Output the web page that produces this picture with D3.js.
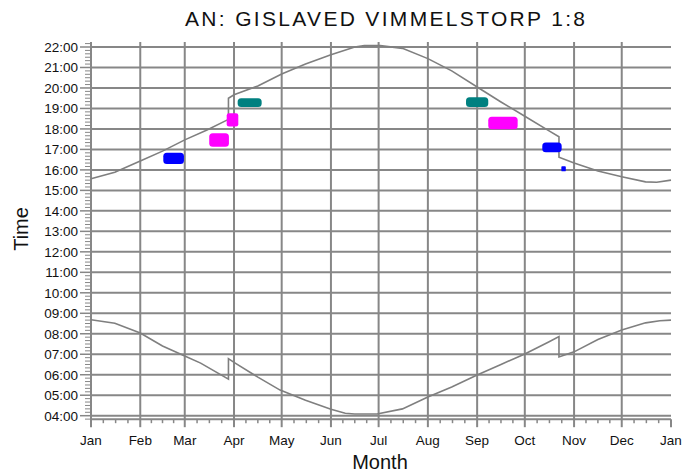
<!DOCTYPE html>
<html>
<head>
<meta charset="utf-8">
<script src="https://cdn.jsdelivr.net/npm/d3@7"></script>
<style>
  body { margin: 0; background: #fff; }
  svg { display: block; font-family: "Liberation Sans", Arial, sans-serif; }
</style>
</head>
<body>
<svg id="chart" width="699" height="473"></svg>
<script>
// Month axis: day-of-year where each month begins
const monthLabels = ["Jan","Feb","Mar","Apr","May","Jun","Jul","Aug","Sep","Oct","Nov","Dec","Jan"];
const monthStartDays = [0,31,59,90,120,151,181,212,243,273,304,334,365];
const hourTicks = d3.range(4, 23);

// Sunset (local clock time); the repeated day marks the daylight-saving shifts
const sunsetDays  = [0, 15, 31, 45, 59, 73, 86.5, 86.5, 90, 105, 120, 135, 151, 166, 172, 182, 196, 212, 227, 246, 258, 273, 288, 294.5, 294.5, 304, 319, 334, 349, 356, 365];
const sunsetTimes = ["15:34","15:53","16:26","16:55","17:28","17:57","18:28","19:30","19:40","20:06","20:41","21:10","21:37","22:00","22:04","22:04","21:56","21:26","20:50","19:54","19:19","18:37","17:55","17:37","16:37","16:20","15:57","15:40","15:25","15:24","15:30"];

// Sunrise (local clock time)
const sunriseDays  = [0, 15, 31, 45, 59, 69, 86.5, 86.5, 90, 105, 119, 135, 151, 160, 166, 180, 196, 212, 227, 243, 258, 273, 288, 294.5, 294.5, 304, 319, 334, 349, 358, 365];
const sunriseTimes = ["08:41","08:31","08:02","07:24","06:55","06:34","05:47","06:47","06:36","05:53","05:15","04:45","04:19","04:07","04:05","04:05","04:20","04:55","05:24","05:59","06:30","07:01","07:36","07:52","06:52","07:07","07:43","08:11","08:32","08:38","08:40"];

// Observation clusters: colour group, day span and clock-time span
const clusterGroup    = ["blue","magenta","magenta","teal","teal","magenta","blue","blue"];
const clusterDayFrom  = [45.5, 74.4, 85.4, 92.3, 236, 250, 284, 296.0];
const clusterDayTo    = [58.5, 86.8, 92.7, 107.4, 250, 268.5, 296.2, 298.8];
const clusterTimeFrom = ["16:17","17:08","18:07","19:04","19:04","17:59","16:52","15:56"];
const clusterTimeTo   = ["16:50","17:47","18:46","19:30","19:33","18:36","17:20","16:11"];

const groupColor = { blue: "#0000ff", magenta: "#ff00ff", teal: "#008080" };

const toHours = s => { const [h, m] = s.split(":").map(Number); return h + m / 60; };

const svg = d3.select("#chart");
const gridColor = "#878787";

const x = d3.scaleLinear().domain([0, 365]).range([91, 671]);
const y = d3.scaleLinear().domain([4, 22]).range([415.7, 47]);
const yBottom = y(3.83), yTop = y(22.25);

// Horizontal hour grid
svg.append("g").selectAll("line").data(hourTicks).join("line")
  .attr("x1", x(0)).attr("x2", x(365))
  .attr("y1", d => y(d)).attr("y2", d => y(d))
  .attr("stroke", gridColor).attr("stroke-width", 2);

// Vertical month grid
svg.append("g").selectAll("line").data(monthStartDays.slice(1, 12)).join("line")
  .attr("x1", d => x(d)).attr("x2", d => x(d))
  .attr("y1", yTop).attr("y2", yBottom)
  .attr("stroke", gridColor).attr("stroke-width", 2);

// Y axis with 10-minute minor ticks
const yAxisG = svg.append("g");
yAxisG.append("line").attr("x1", x(0)).attr("x2", x(0)).attr("y1", yTop).attr("y2", yBottom + 7)
  .attr("stroke", gridColor).attr("stroke-width", 2);
const minorY = d3.range(4 * 6 - 1, 22 * 6 + 2).map(v => v / 6).filter(v => v % 1 !== 0);
yAxisG.selectAll("line.minor").data(minorY).join("line").attr("class", "minor")
  .attr("x1", x(0) - 6).attr("x2", x(0))
  .attr("y1", d => y(d)).attr("y2", d => y(d))
  .attr("stroke", gridColor).attr("stroke-width", 1);
yAxisG.selectAll("line.major").data(hourTicks).join("line").attr("class", "major")
  .attr("x1", x(0) - 11).attr("x2", x(0))
  .attr("y1", d => y(d)).attr("y2", d => y(d))
  .attr("stroke", gridColor).attr("stroke-width", 1.5);
yAxisG.selectAll("text").data(hourTicks).join("text")
  .attr("x", x(0) - 13).attr("y", d => y(d)).attr("dy", "0.36em")
  .attr("text-anchor", "end").attr("font-size", 13.5).attr("fill", "#111")
  .text(d => d3.format("02d")(d) + ":00");

// X axis with month ticks and quarter-month minor ticks
const xAxisG = svg.append("g");
xAxisG.append("line").attr("x1", x(0)).attr("x2", x(365)).attr("y1", yBottom).attr("y2", yBottom)
  .attr("stroke", gridColor).attr("stroke-width", 2);
const minorX = [];
for (let i = 0; i < 12; i++) {
  const a = monthStartDays[i], b = monthStartDays[i + 1];
  for (let k = 1; k < 4; k++) minorX.push(a + (b - a) * k / 4);
}
xAxisG.selectAll("line.minor").data(minorX).join("line").attr("class", "minor")
  .attr("x1", d => x(d)).attr("x2", d => x(d))
  .attr("y1", yBottom).attr("y2", yBottom + 4)
  .attr("stroke", gridColor).attr("stroke-width", 1.5);
xAxisG.selectAll("line.major").data(monthStartDays).join("line").attr("class", "major")
  .attr("x1", d => x(d)).attr("x2", d => x(d))
  .attr("y1", yBottom).attr("y2", yBottom + 8)
  .attr("stroke", gridColor).attr("stroke-width", 2);
xAxisG.selectAll("text").data(monthStartDays).join("text")
  .attr("x", d => x(d)).attr("y", 445)
  .attr("text-anchor", "middle").attr("font-size", 13.5).attr("fill", "#111")
  .text((d, i) => monthLabels[i]);

// Sun curves
const line = d3.line().x(d => x(d[0])).y(d => y(d[1]));
const sunset = sunsetDays.map((d, i) => [d, toHours(sunsetTimes[i])]);
const sunrise = sunriseDays.map((d, i) => [d, toHours(sunriseTimes[i])]);
svg.append("g").selectAll("path").data([sunset, sunrise]).join("path")
  .attr("d", line).attr("fill", "none")
  .attr("stroke", "#7f7f7f").attr("stroke-width", 1.6);

// Observation clusters
svg.append("g").selectAll("rect").data(clusterGroup).join("rect")
  .attr("x", (g, i) => x(clusterDayFrom[i]))
  .attr("width", (g, i) => x(clusterDayTo[i]) - x(clusterDayFrom[i]))
  .attr("y", (g, i) => y(toHours(clusterTimeTo[i])))
  .attr("height", (g, i) => y(toHours(clusterTimeFrom[i])) - y(toHours(clusterTimeTo[i])))
  .attr("rx", (g, i) => Math.min(3.5, (x(clusterDayTo[i]) - x(clusterDayFrom[i])) * 0.2))
  .attr("fill", g => groupColor[g]);

// Titles
svg.append("text").attr("x", 385).attr("y", 26).attr("text-anchor", "middle")
  .attr("font-size", 21).attr("fill", "#111")
  .attr("textLength", 400).attr("lengthAdjust", "spacing")
  .text("AN: GISLAVED VIMMELSTORP 1:8");
svg.append("text").attr("x", 380).attr("y", 469).attr("text-anchor", "middle")
  .attr("font-size", 20).attr("fill", "#111").text("Month");
svg.append("text").attr("transform", "translate(28,229) rotate(-90)")
  .attr("text-anchor", "middle").attr("font-size", 20).attr("fill", "#111").text("Time");
</script>
</body>
</html>
